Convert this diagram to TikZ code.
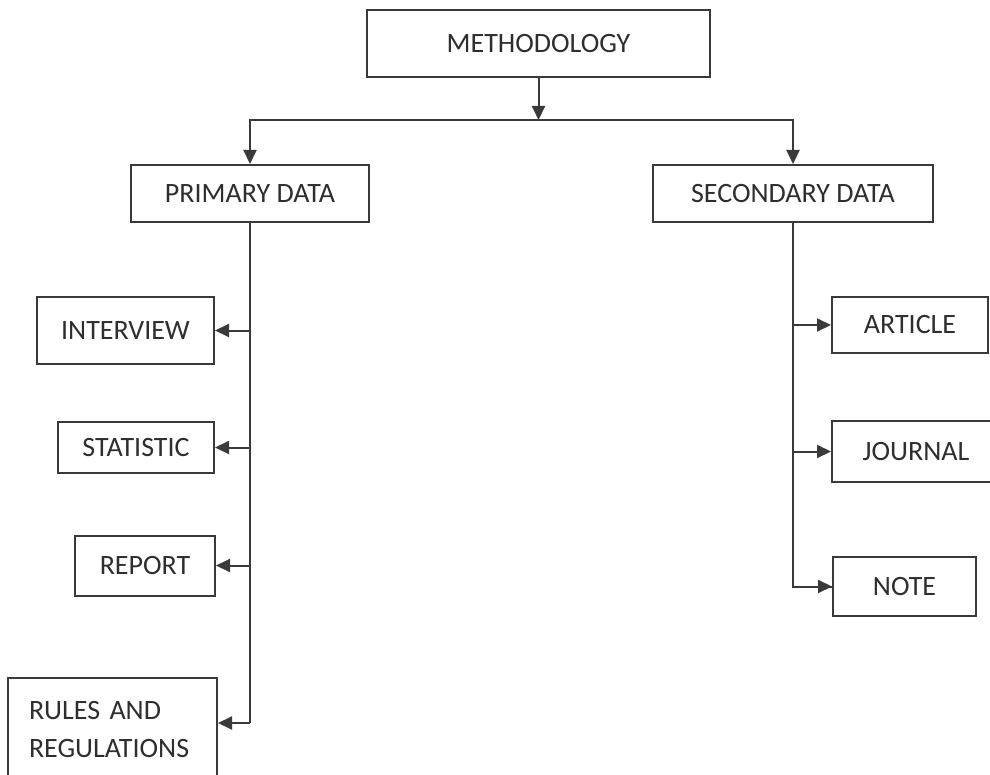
\documentclass[tikz,border=0pt]{standalone}
\usepackage{fontspec}
\setmainfont{Carlito}
\usepackage{tikz}
\usetikzlibrary{arrows.meta,positioning}
\definecolor{ink}{HTML}{2E2E2E}
\definecolor{wire}{HTML}{3A3A3A}
\begin{document}
\begin{tikzpicture}[x=0.5pt,y=-0.5pt,
  box/.style={draw=wire,line width=1pt,text=ink,font=\fontsize{14}{19}\selectfont,inner sep=0pt},
  link/.style={wire,line width=1pt},
  arr/.style={link,-{Triangle[length=7pt,width=6.5pt]}}]
\useasboundingbox (0,0) rectangle (990,775);
\node[box,minimum width=171.5pt,minimum height=33.5pt] (meth) at (538.5,43.5){METHODOLOGY};
\node[box,minimum width=119pt,minimum height=28.5pt] (prim) at (250,193.5){PRIMARY DATA};
\node[box,minimum width=140pt,minimum height=28.5pt] (sec) at (793,193.5){SECONDARY DATA};
\node[box,minimum width=88.5pt,minimum height=33.5pt] (intv) at (125.5,330.5){INTERVIEW};
\node[box,minimum width=78pt,minimum height=25.5pt] (stat) at (136,447.5){STATISTIC};
\node[box,minimum width=70pt,minimum height=30pt] (rep) at (145,565.5){REPORT};
\node[box,anchor=north west,align=left,text width=83.5pt,inner xsep=10.5pt,minimum height=51.5pt] (rules) at (7,677){RULES AND\\REGULATIONS};
\node[box,minimum width=78pt,minimum height=28pt] (art) at (910,325){ARTICLE};
\node[box,minimum width=84pt,minimum height=30.5pt] (jour) at (916,451.5){JOURNAL};
\node[box,minimum width=71.5pt,minimum height=29.5pt] (note) at (904.5,586.5){NOTE};
\coordinate (split) at (538.5,120);
\coordinate (lend) at (250,723);
\draw[arr] (meth) -- (split);
\draw[link] (prim.north |- split) -- (sec.north |- split);
\draw[arr] (split) -| (prim);\draw[arr] (split) -| (sec);
\draw[link] (prim) -- (lend);
\draw[arr] (prim.south |- intv.east) -- (intv);\draw[arr] (prim.south |- stat.east) -- (stat);
\draw[arr] (prim.south |- rep.east) -- (rep);\draw[arr] (lend) -- (rules.east |- lend);
\draw[link] (sec) |- (note);
\draw[arr] (sec.south |- art.west) -- (art);\draw[arr] (sec.south |- jour.west) -- (jour);
\draw[arr] (sec.south |- note.west) -- (note);
\end{tikzpicture}
\end{document}
